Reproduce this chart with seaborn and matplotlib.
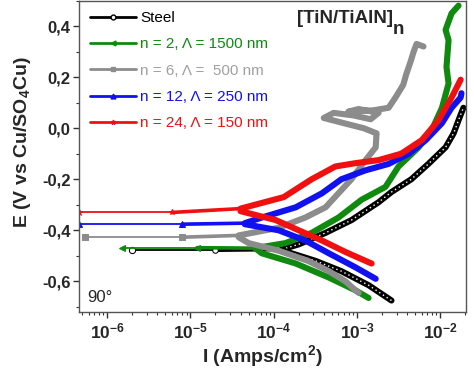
import math

import matplotlib
matplotlib.use("Agg")
import matplotlib.pyplot as plt
import matplotlib.ticker as mticker
from matplotlib.lines import Line2D
import seaborn as sns

# ---- data (current in A/cm2, potential in V) ----
labels = ["Steel", "n = 2, \u039b = 1500 nm", "n = 6, \u039b =  500 nm",
          "n = 12, \u039b = 250 nm", "n = 24, \u039b = 150 nm"]
colors = ["#000000", "#0f8a0f", "#8c8c8c", "#1010f0", "#f01010"]
label_colors = ["#000000", "#0f8a0f", "#a0a0a0", "#1010f0", "#f01010"]
markers = ["o", "<", "s", "^", "*"]

# anodic branch: [0] plateau start, [1] noisy plateau start, [2] corrosion point, then upwards
steel_an_I = [2.0e-6, 2.0e-5, 1.25e-4, 2.0e-4, 4.2e-4, 8.6e-4, 1.82e-3, 2.6e-3,
              4.5e-3, 7.2e-3, 1.16e-2, 1.45e-2, 1.7e-2, 1.9e-2]
steel_an_E = [-0.478, -0.478, -0.475, -0.455, -0.41, -0.36, -0.29, -0.25,
              -0.20, -0.14, -0.075, -0.02, 0.04, 0.08]
steel_cat_I = [1.25e-4, 3.2e-4, 6.5e-4, 1.38e-3, 2.6e-3]
steel_cat_E = [-0.478, -0.52, -0.56, -0.615, -0.675]

green_an_I = [1.5e-6, 1.2e-5, 6.0e-5, 1.39e-4, 2.86e-4, 6.0e-4, 1.14e-3, 2.2e-3,
              3.16e-3, 5.5e-3, 7.9e-3, 1.05e-2, 1.26e-2, 1.19e-2, 1.26e-2,
              1.16e-2, 1.37e-2, 1.66e-2]
green_an_E = [-0.468, -0.468, -0.47, -0.45, -0.41, -0.35, -0.28, -0.23,
              -0.15, -0.075, -0.008, 0.08, 0.175, 0.24, 0.345, 0.385, 0.45, 0.48]
green_cat_I = [6.0e-5, 7.2e-5, 1.84e-4, 4.6e-4, 9.6e-4, 1.38e-3]
green_cat_E = [-0.47, -0.49, -0.53, -0.585, -0.635, -0.665]

gray_an_I = [5.4e-7, 8.0e-6, 3.8e-5, 1.15e-4, 2.4e-4, 4.2e-4, 6.0e-4, 8.6e-4,
             1.27e-3, 1.68e-3, 1.72e-3, 1.2e-3, 6.9e-4, 4.0e-4, 5.25e-4, 9.1e-4,
             1.46e-3, 1.82e-3, 1.05e-3, 7.9e-4, 1.58e-3, 2.4e-3, 2.9e-3, 3.6e-3,
             3.9e-3, 4.4e-3, 4.8e-3, 5.2e-3, 6.3e-3]
gray_an_E = [-0.427, -0.427, -0.42, -0.39, -0.35, -0.31, -0.255, -0.20,
             -0.125, -0.075, -0.02, 0.0, 0.02, 0.04, 0.06, 0.05,
             0.035, 0.06, 0.075, 0.065, 0.07, 0.08, 0.12, 0.17,
             0.21, 0.26, 0.30, 0.33, 0.32]
gray_cat_I = [3.8e-5, 5.0e-5, 1.15e-4, 2.6e-4, 4.6e-4, 7.3e-4, 9.6e-4, 1.05e-3]
gray_cat_E = [-0.427, -0.45, -0.48, -0.52, -0.56, -0.60, -0.635, -0.645]

blue_an_I = [4.6e-7, 8.0e-6, 4.5e-5, 7.2e-5, 1.84e-4, 3.8e-4, 6.5e-4, 1.27e-3,
             2.4e-3, 4.2e-3, 6.7e-3, 1.05e-2, 1.37e-2, 1.76e-2, 1.8e-2]
blue_an_E = [-0.376, -0.376, -0.372, -0.35, -0.31, -0.255, -0.20, -0.165,
             -0.14, -0.10, -0.047, 0.02, 0.08, 0.12, 0.137]
blue_cat_I = [4.5e-5, 1.15e-4, 2.4e-4, 4.6e-4, 9.6e-4, 1.68e-3]
blue_cat_E = [-0.376, -0.40, -0.44, -0.49, -0.545, -0.59]

red_an_I = [4.6e-7, 6.0e-6, 4.0e-5, 1.32e-4, 2.86e-4, 5.5e-4, 9.6e-4, 1.82e-3,
            3.4e-3, 6.0e-3, 9.5e-3, 1.37e-2, 1.76e-2]
red_an_E = [-0.33, -0.33, -0.315, -0.27, -0.20, -0.15, -0.137, -0.125,
            -0.10, -0.047, 0.03, 0.12, 0.19]
red_cat_I = [4.0e-5, 1.06e-4, 2.0e-4, 3.8e-4, 7.3e-4, 1.38e-3, 1.5e-3]
red_cat_E = [-0.325, -0.36, -0.40, -0.44, -0.485, -0.525, -0.53]

series = [
    (steel_an_I, steel_an_E, steel_cat_I, steel_cat_E),
    (green_an_I, green_an_E, green_cat_I, green_cat_E),
    (gray_an_I, gray_an_E, gray_cat_I, gray_cat_E),
    (blue_an_I, blue_an_E, blue_cat_I, blue_cat_E),
    (red_an_I, red_an_E, red_cat_I, red_cat_E),
]

sns.set_theme(style="ticks")
plt.rcParams["font.family"] = ["Liberation Sans", "DejaVu Sans"]
plt.rcParams["mathtext.fontset"] = "custom"
plt.rcParams["mathtext.rm"] = "Liberation Sans:bold"
plt.rcParams["mathtext.bf"] = "Liberation Sans:bold"
plt.rcParams["mathtext.it"] = "Liberation Sans:bold"

fig = plt.figure(figsize=(4.74, 3.85), dpi=100)
ax = fig.add_axes([0.1667, 0.1896, 0.8164, 0.809])

# draw from the back (steel) to the front (red), as in the original
for (an_I, an_E, cat_I, cat_E), c, m in zip(series, colors, markers):
    mfc = "white" if m == "o" else c
    # thin quiet plateau with the start marker
    sns.lineplot(x=an_I[:2], y=an_E[:2], sort=False, estimator=None, ax=ax,
                 color=c, lw=1.3, marker=m, markevery=[0], ms=4.5,
                 mfc=mfc, mec=c, legend=False)
    # noisy part of the plateau
    sns.lineplot(x=an_I[1:3], y=an_E[1:3], sort=False, estimator=None, ax=ax,
                 color=c, lw=2.6, marker=m, markevery=[0], ms=4,
                 mfc=mfc, mec=c, legend=False)
    # thick polarisation branches
    for xs, ys in ((an_I[2:], an_E[2:]), (cat_I, cat_E)):
        sns.lineplot(x=xs, y=ys, sort=False, estimator=None, ax=ax, color=c,
                     lw=4.4, solid_capstyle="round", solid_joinstyle="round",
                     legend=False)
        if c == "#000000":
            ax.plot(xs, ys, color="white", lw=1.0, ls=(0, (1, 2.2)))

ax.set_xscale("log")
ax.set_xlim(4.6e-7, 2.04e-2)
ax.set_ylim(-0.72, 0.50)

ax.yaxis.set_major_locator(mticker.MultipleLocator(0.2))
ax.yaxis.set_minor_locator(mticker.MultipleLocator(0.1))
ax.yaxis.set_major_formatter(
    mticker.FuncFormatter(lambda v, p: f"{v:.1f}".replace(".", ",").replace("-0,0", "0,0")))
ax.xaxis.set_major_locator(mticker.LogLocator(base=10, numticks=10))
ax.xaxis.set_minor_locator(mticker.LogLocator(base=10, subs=range(2, 10), numticks=20))
ax.xaxis.set_minor_formatter(mticker.NullFormatter())
ax.xaxis.set_major_formatter(
    mticker.FuncFormatter(lambda v, p: r"$\mathrm{10^{%d}}$" % round(math.log10(v))))

ax.tick_params(axis="both", which="major", direction="out", length=4, width=1,
               color="#333333", pad=2)
ax.tick_params(axis="both", which="minor", direction="out", length=2.5, width=0.8,
               color="#333333")
ax.tick_params(axis="y", labelsize=12)
ax.tick_params(axis="x", labelsize=12.5, pad=3)
for lab in ax.get_yticklabels():
    lab.set_fontweight("bold")
for sp in ax.spines.values():
    sp.set_visible(True)
    sp.set_color("#555555")
    sp.set_linewidth(1.0)

ax.set_xlabel(r"I (Amps/cm$^\mathrm{2}$)", fontsize=14, fontweight="bold")
ax.set_ylabel(r"E (V vs Cu/SO$_\mathrm{4}$Cu)", fontsize=14, fontweight="bold")
ax.xaxis.set_label_coords(0.475, -0.10)
ax.yaxis.set_label_coords(-0.12, 0.547)

handles = [Line2D([], [], color=c, lw=2, marker=m, ms=3.5,
                  mfc="white" if m == "o" else c, mec=c)
           for c, m in zip(colors, markers)]
leg = ax.legend(handles, labels, loc="upper left", bbox_to_anchor=(0.0, 1.0),
                frameon=False, fontsize=11, handlelength=3.0,
                handletextpad=0.3, labelspacing=0.8, borderaxespad=0.3)
for t, c in zip(leg.get_texts(), label_colors):
    t.set_color(c)

ax.text(0.563, 0.942, "[TiN/TiAlN]", transform=ax.transAxes,
        fontsize=13.5, fontweight="bold", va="center", ha="left")
ax.text(0.812, 0.906, "n", transform=ax.transAxes,
        fontsize=13.5, fontweight="bold", va="center", ha="left")
ax.text(0.02, 0.045, "90\u00b0", transform=ax.transAxes, fontsize=12,
        va="center", ha="left")

fig.savefig("out.png", dpi=100)
